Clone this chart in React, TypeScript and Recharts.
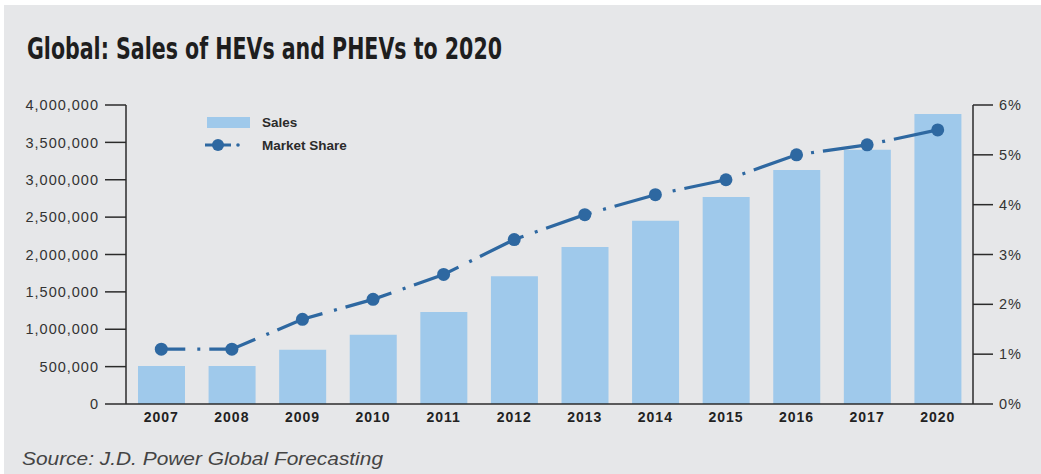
import { ComposedChart, Bar, Line, XAxis, YAxis } from "recharts"

const years = ["2007", "2008", "2009", "2010", "2011", "2012", "2013", "2014", "2015", "2016", "2017", "2020"]
const sales = [510000, 510000, 725000, 925000, 1230000, 1710000, 2100000, 2450000, 2770000, 3130000, 3400000, 3880000]
const marketShare = [1.1, 1.1, 1.7, 2.1, 2.6, 3.3, 3.8, 4.2, 4.5, 5.0, 5.2, 5.5]
const salesTicks = [0, 500000, 1000000, 1500000, 2000000, 2500000, 3000000, 3500000, 4000000]
const shareTicks = [0, 1, 2, 3, 4, 5, 6]

const data = years.map((year, i) => ({ year, sales: sales[i], share: marketShare[i] }))

const BAR = "#9fc9eb"
const LINE = "#2e68a1"
const AXIS = "#2b2b2b"
const FONT = "'Liberation Sans', Arial, Helvetica, sans-serif"

// legend is drawn by hand so it can sit inside the plot like the original
function LegendBox() {
  return (
    <svg width={200} height={56} style={{ fontFamily: FONT, display: "block" }}>
      <rect x={7} y={5} width={43} height={11} fill={BAR} />
      <text x={62} y={15} fontSize={13.5} fontWeight="bold" fill="#2b2b2b">Sales</text>
      <line x1={5} y1={33} x2={31} y2={33} stroke={LINE} strokeWidth={3} />
      <circle cx={18} cy={33} r={6} fill={LINE} />
      <circle cx={38} cy={33} r={1.8} fill={LINE} />
      <text x={62} y={38} fontSize={13.5} fontWeight="bold" fill="#2b2b2b">Market Share</text>
    </svg>
  )
}

export default function App() {
  return (
    <div style={{ position: "absolute", left: 0, top: 0, width: 1041, height: 474, background: "#fff", overflow: "hidden" }}>
      <div style={{ position: "absolute", left: 4, top: 5, width: 1037, height: 469, background: "#e6e7e9" }} />
      <svg width={1041} height={474} style={{ position: "absolute", left: 0, top: 0 }}>
        <text
          x={27}
          y={59}
          fontSize={30}
          fontWeight="bold"
          fill="#1e1e1e"
          textLength={475}
          lengthAdjust="spacingAndGlyphs"
          style={{ fontFamily: "'Liberation Sans Narrow', 'DejaVu Sans Condensed', Arial, sans-serif" }}
        >
          Global: Sales of HEVs and PHEVs to 2020
        </text>
        <text
          x={22}
          y={465}
          fontSize={18}
          fontStyle="italic"
          fill="#444"
          textLength={361}
          lengthAdjust="spacingAndGlyphs"
          style={{ fontFamily: FONT }}
        >
          Source: J.D. Power Global Forecasting
        </text>
      </svg>
      <div style={{ position: "absolute", left: 0, top: 0 }}>
        <ComposedChart
          width={1041}
          height={474}
          data={data}
          margin={{ top: 105, right: 0, left: 0, bottom: 40 }}
          barCategoryGap="17%"
          style={{ fontFamily: FONT }}
        >
          <XAxis
            dataKey="year"
            tickLine={false}
            axisLine={{ stroke: AXIS, strokeWidth: 1.5 }}
            height={30}
            tick={{ fill: "#222", fontSize: 14, fontWeight: "bold", letterSpacing: 1 }}
          />
          <YAxis
            yAxisId="left"
            width={126}
            domain={[0, 4000000]}
            ticks={salesTicks}
            interval={0}
            tickSize={21}
            tickMargin={6}
            tickFormatter={(v: number) => v.toLocaleString("en-US")}
            axisLine={{ stroke: AXIS, strokeWidth: 1.5 }}
            tickLine={{ stroke: AXIS, strokeWidth: 1.5 }}
            tick={{ fill: "#333", fontSize: 14.5, letterSpacing: 1 }}
          />
          <YAxis
            yAxisId="right"
            orientation="right"
            width={68}
            domain={[0, 6]}
            ticks={shareTicks}
            interval={0}
            tickSize={20}
            tickMargin={6}
            tickFormatter={(v: number) => `${v}%`}
            axisLine={{ stroke: AXIS, strokeWidth: 1.5 }}
            tickLine={{ stroke: AXIS, strokeWidth: 1.5 }}
            tick={{ fill: "#333", fontSize: 14.5, letterSpacing: 1 }}
          />
          <Bar yAxisId="left" dataKey="sales" name="Sales" fill={BAR} isAnimationActive={false} />
          <Line
            yAxisId="right"
            dataKey="share"
            name="Market Share"
            type="linear"
            stroke={LINE}
            strokeWidth={3.2}
            strokeDasharray="48 12 3 9"
            strokeDashoffset={24}
            dot={{ r: 6.5, fill: LINE, stroke: LINE, strokeWidth: 0, strokeDasharray: "" }}
            activeDot={false}
            isAnimationActive={false}
          />
        </ComposedChart>
      </div>
      <div style={{ position: "absolute", left: 200, top: 112 }}>
        <LegendBox />
      </div>
    </div>
  )
}
